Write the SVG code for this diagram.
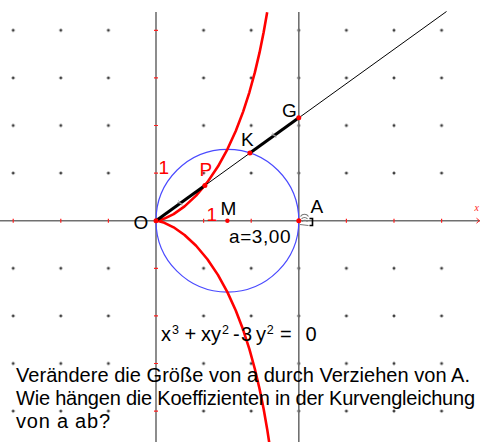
<svg xmlns="http://www.w3.org/2000/svg" width="481" height="442" viewBox="0 0 481 442">
<style>
.ax{stroke:#707070;stroke-width:1.6;fill:none}
.tk{stroke:#ff2020;stroke-width:1.2}
.lbl{font-family:"Liberation Sans",Arial,sans-serif;font-size:19px;fill:#000}
.red{fill:#ff0000}
.pt{fill:#ff0000}
.txt{font-family:"Liberation Sans",Arial,sans-serif;font-size:20px;fill:#000}
</style>
<defs>
<pattern id="dots" x="-10.6" y="6.5" width="47.6" height="47.6" patternUnits="userSpaceOnUse">
<path d="M22.3 23.8h3M23.8 22.3v3" stroke="#000" stroke-width="1"/>
</pattern>
</defs>
<rect width="481" height="442" fill="#fff"/>
<g id="grid">
<rect x="0" y="0" width="150" height="215" fill="url(#dots)"/>
<rect x="162" y="0" width="319" height="215" fill="url(#dots)"/>
<rect x="0" y="227" width="150" height="215" fill="url(#dots)"/>
<rect x="162" y="227" width="319" height="215" fill="url(#dots)"/>
</g>
<g id="axes">
<line class="ax" x1="0" y1="220.7" x2="480" y2="220.7"/>
<line class="ax" x1="156" y1="12" x2="156" y2="442"/>
<line class="ax" x1="298.8" y1="12" x2="298.8" y2="442"/>
<path class="tk" d="M13.2 218.7v4M60.8 218.7v4M108.4 218.7v4M203.6 218.7v4M251.2 218.7v4M298.8 218.7v4M346.4 218.7v4M394 218.7v4M441.6 218.7v4"/>
<path class="tk" d="M154 30.3h4M154 77.9h4M154 125.5h4M154 173.1h4M154 268.3h4M154 315.9h4M154 363.5h4M154 411.1h4"/>
<path d="M476.5 218.2l3 2.5l-3 2.5" stroke="#ff2020" stroke-width="1" fill="none"/>
<text x="474.5" y="211" font-family="Liberation Serif,serif" font-style="italic" font-size="10" fill="#ff2020">x</text>
</g>
<g id="circle">
<circle cx="227.4" cy="220.7" r="71.4" fill="none" stroke="#4a4aff" stroke-width="1.2"/>
</g>
<g id="curve">
<polyline fill="none" stroke="#ff0000" stroke-width="2.6" stroke-linejoin="round" points="267.18,12.24 263.65,32.31 259.58,52.39 254.86,72.41 249.40,92.28 243.07,111.86 235.77,130.96 227.40,149.30 217.92,166.52 207.41,182.14 196.11,195.63 184.56,206.42 173.61,214.10 164.40,218.60 158.20,220.43 156,220.7 158.20,220.97 164.40,222.80 173.61,227.30 184.56,234.98 196.11,245.77 207.41,259.26 217.92,274.88 227.40,292.10 235.77,310.44 243.07,329.54 249.40,349.12 254.86,368.99 259.58,389.01 263.65,409.09 267.18,429.16 270.24,449.18"/>
</g>
<g id="connectors">
<line x1="156" y1="220.7" x2="446.5" y2="11.5" stroke="#000" stroke-width="1"/>
<line x1="156" y1="220.7" x2="204.89" y2="185.42" stroke="#000" stroke-width="3"/>
<line x1="249.9" y1="152.94" x2="298.8" y2="117.66" stroke="#000" stroke-width="3"/>
<path d="M178.5 200.5l3.5 5M177.5 202.5l5 1.5" stroke="#999" stroke-width="1"/>
<path d="M272.5 132.7l3.5 5M271.5 134.7l5 1.5" stroke="#999" stroke-width="1"/>
</g>
<g id="O"><circle class="pt" cx="156" cy="220.7" r="2.5"/><text class="lbl" x="133.5" y="228.5" font-size="20">O</text></g>
<g id="P"><circle class="pt" cx="204.89" cy="185.42" r="2.5"/><text class="lbl red" x="199.5" y="175.5">P</text></g>
<g id="K"><circle class="pt" cx="249.9" cy="152.94" r="2.5"/><text class="lbl" x="241" y="146">K</text></g>
<g id="G"><circle class="pt" cx="298.8" cy="117.66" r="2.5"/><text class="lbl" x="282" y="116.5">G</text></g>
<g id="M"><circle class="pt" cx="227.4" cy="220.7" r="2.2"/><text class="lbl" x="220.5" y="214.5">M</text></g>
<g id="A">
<path d="M300.5 216.5c2-3 6-3 8 0M301.5 219c1.5-2 4.5-2 6 0M302 221.5c1.5-1.5 4-1.5 5.5 0M300 224.5l8.5 1" stroke="#777" stroke-width="1.1" fill="none"/>
<path d="M309.5 218.5h3v7h-3" stroke="#000" stroke-width="1.6" fill="none"/>
<circle class="pt" cx="298.8" cy="220.7" r="2.5"/>
<text class="lbl" x="310.5" y="212.5">A</text>
</g>
<g id="units">
<text class="lbl red" x="206.5" y="220.5">1</text>
<text class="lbl red" x="158.5" y="173.5">1</text>
</g>
<g id="param"><text class="lbl" x="229" y="242.7" font-size="20" textLength="61.5" lengthAdjust="spacing">a=3,00</text></g>
<g id="equation" font-family="Liberation Sans,Arial,sans-serif" fill="#000">
<text font-size="20" y="341"><tspan x="161">x</tspan><tspan x="184.5">+</tspan><tspan x="201">xy</tspan><tspan x="233">-</tspan><tspan x="241">3</tspan><tspan x="256">y</tspan><tspan x="280">=</tspan><tspan x="305.5">0</tspan></text>
<text font-size="12.5" y="334"><tspan x="172">3</tspan><tspan x="222">2</tspan><tspan x="266.8">2</tspan></text>
</g>
<g id="caption">
<text class="txt" x="16" y="381.5" textLength="454" lengthAdjust="spacing">Verändere die Größe von a durch Verziehen von A.</text>
<text class="txt" x="16" y="404.5" textLength="459" lengthAdjust="spacing">Wie hängen die Koeffizienten in der Kurvengleichung</text>
<text class="txt" x="16" y="427.5" textLength="94" lengthAdjust="spacing">von a ab?</text>
</g>
</svg>
